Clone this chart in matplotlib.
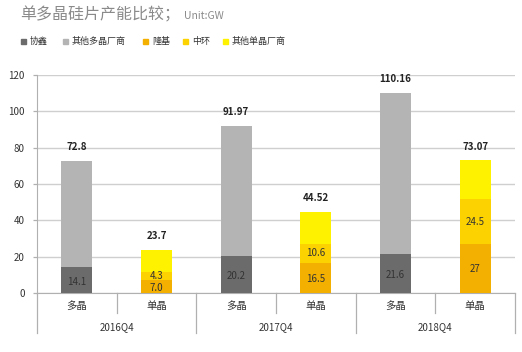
import matplotlib.pyplot as plt
import numpy as np

plt.rcParams['font.family'] = ['Noto Sans CJK SC', 'DejaVu Sans']

years = ['2016Q4', '2017Q4', '2018Q4']
types = ['多晶', '单晶']

# multi-crystalline bars
xiexin = [14.1, 20.2, 21.6]
multi_total = [72.8, 91.97, 110.16]
other_multi = [t - a for t, a in zip(multi_total, xiexin)]

# mono-crystalline bars
longji = [7.0, 16.5, 27]
zhonghuan = [4.3, 10.6, 24.5]
mono_total = [23.7, 44.52, 73.07]
other_mono = [t - a - b for t, a, b in zip(mono_total, longji, zhonghuan)]
longji_lbl = ['7.0', '16.5', '27']
zhonghuan_lbl = ['4.3', '10.6', '24.5']
xiexin_lbl = ['14.1', '20.2', '21.6']
multi_lbl = ['72.8', '91.97', '110.16']
mono_lbl = ['23.7', '44.52', '73.07']

c_dark = '#6b6b6b'
c_gray = '#b4b4b4'
c_lj = '#f3b000'
c_zh = '#fcd200'
c_om = '#fff200'

fig = plt.figure(figsize=(5.22, 3.52), dpi=100)
ax = fig.add_axes([37/522, 1-293/352, 478/522, 218/352])

xm = np.arange(3) * 2
xs = xm + 1
w = 0.39

ax.bar(xm, xiexin, w, color=c_dark, zorder=3)
ax.bar(xm, other_multi, w, bottom=xiexin, color=c_gray, zorder=3)
ax.bar(xs, longji, w, color=c_lj, zorder=3)
ax.bar(xs, zhonghuan, w, bottom=longji, color=c_zh, zorder=3)
b2 = [a + b for a, b in zip(longji, zhonghuan)]
ax.bar(xs, other_mono, w, bottom=b2, color=c_om, zorder=3)

for i in range(3):
    ax.text(xm[i], multi_total[i] + 7.5, multi_lbl[i], ha='center', va='center',
            fontsize=7, fontweight='bold', color='#222222')
    ax.text(xs[i], mono_total[i] + 7.5, mono_lbl[i], ha='center', va='center',
            fontsize=7, fontweight='bold', color='#222222')
    ax.text(xm[i], xiexin[i] / 2 - 1, xiexin_lbl[i], ha='center', va='center',
            fontsize=7, color='#333333', zorder=4)
    ax.text(xs[i], longji[i] / 2 - 0.5, longji_lbl[i], ha='center', va='center',
            fontsize=7, color='#333333', zorder=4)
    ax.text(xs[i], longji[i] + zhonghuan[i] / 2, zhonghuan_lbl[i], ha='center', va='center',
            fontsize=7, color='#333333', zorder=4)

ax.set_xlim(-0.5, 5.5)
ax.set_ylim(0, 120)
ax.set_yticks(range(0, 121, 20))
ax.tick_params(axis='y', length=3, width=0.9, color='#b0b0b0', labelsize=7,
               labelcolor='#333333', pad=6)
ax.tick_params(axis='x', length=0, labelbottom=False)
ax.grid(axis='y', color='#cfcfcf', linewidth=1, zorder=0)
for s in ['top', 'right']:
    ax.spines[s].set_visible(False)
ax.spines['left'].set_color('#b0b0b0')
ax.spines['bottom'].set_color('#b0b0b0')

# category axis with two levels
tr = ax.get_xaxis_transform()
for k in range(7):
    x = k - 0.5
    depth = -0.185 if k % 2 == 0 else -0.092
    ax.plot([x, x], [0, depth], transform=tr, color='#b0b0b0', lw=0.9, clip_on=False)
for k in range(6):
    ax.text(k, -0.06, types[k % 2], transform=tr, ha='center', va='center',
            fontsize=7.5, color='#333333')
for i in range(3):
    ax.text(xm[i] + 0.5, -0.155, years[i], transform=tr, ha='center', va='center',
            fontsize=7, color='#333333')

fig.text(20/522, 1-15/352, '单多晶硅片产能比较；', fontsize=11.5, color='#8a8a8a', va='center')
fig.text(184/522, 1-16/352, 'Unit:GW', fontsize=7.5, color='#8a8a8a', va='center')

legend_names = ['协鑫', '其他多晶厂商', '隆基', '中环', '其他单晶厂商']
legend_cols = [c_dark, c_gray, c_lj, c_zh, c_om]
legend_x = [21, 63, 143, 183, 223]
for name, col, lx in zip(legend_names, legend_cols, legend_x):
    fig.patches.append(plt.Rectangle((lx/522, 1-44/352), 5/522, 5/352, color=col,
                                     transform=fig.transFigure, figure=fig))
    fig.text((lx + 9)/522, 1-41.5/352, name, fontsize=6.5, color='#333333', va='center')

fig.savefig('out.png', dpi=100)
